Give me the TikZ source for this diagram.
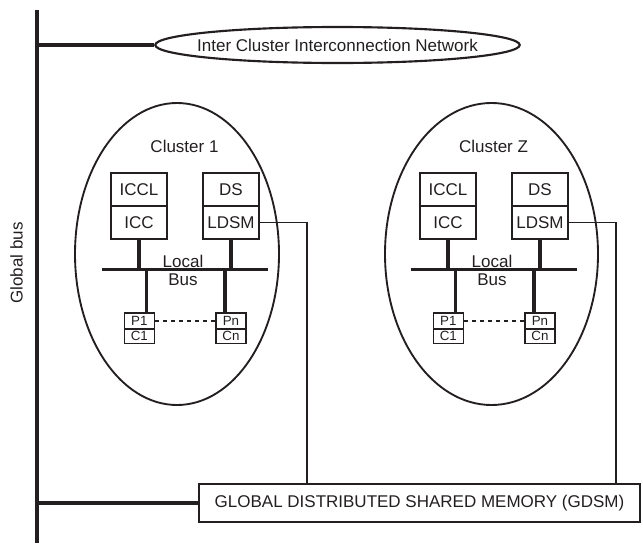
\documentclass[tikz,border=0pt]{standalone}
\usepackage{fontspec}
\setmainfont{Liberation Sans}
\usetikzlibrary{shapes.geometric}
\definecolor{ink}{HTML}{231F20}

\begin{document}
\begin{tikzpicture}[
            x=0.75pt, y=-0.75pt,
            txt/.style={text=ink, inner sep=0pt, font=\fontsize{12.75}{13.5}\selectfont},
            cell/.style={txt, draw=ink, line width=1.6pt, minimum width=42pt,
                    minimum height=24.75pt},
            pcell/.style={txt, draw=ink, line width=1.2pt, minimum width=22.5pt,
                    minimum height=12pt, font=\fontsize{10}{11}\selectfont},
            ccell/.style={pcell, minimum height=10.9pt},
            cluster/.style={draw=ink, ellipse, line width=1.4pt, minimum height=226.5pt, inner sep=0pt},
            bus/.style={draw=ink, line width=2.4pt},
            link/.style={draw=ink, line width=1.2pt}
        ]
        \useasboundingbox (0,0) rectangle (643,543);

        \coordinate (gtop) at (37,10);
        \coordinate (gbot) at (37,543);
        \draw[bus] (gtop) -- (gbot);
        \node[txt, rotate=90] (gbus) at (16.5,263) {Global bus};

        \node[txt, draw=ink, ellipse, line width=1.6pt, minimum height=27pt,
            inner xsep=-8.6pt, inner ysep=0pt] (icin) at (337.5,45) {Inter Cluster Interconnection Network};
        \draw[bus] (gtop |- icin.west) -- (icin.west);

        \node[txt, draw=ink, line width=1.6pt, minimum width=330.75pt, minimum height=28.3pt] (gdsm) at (419.5,502.9) {GLOBAL DISTRIBUTED SHARED MEMORY (GDSM)};
        \draw[bus] (gtop |- gdsm.west) -- (gdsm.west);

        \foreach \id/\lab/\dx/\ex/\ew in {a/1/0/177/153pt, z/Z/309/491.5/159.75pt} {
            \node[cluster, minimum width=\ew] (cl\id) at (\ex,254) {};
            \node[txt] (name\id) at (\dx+184.5,146.7) {Cluster \lab};

            \node[cell] (iccl\id) at (\dx+139,189.5) {ICCL};
            \node[cell] (icc\id) at (\dx+139,222.5) {ICC};
            \node[cell] (ds\id) at (\dx+231,189.5) {DS};
            \node[cell] (ldsm\id) at (\dx+231,222.5) {LDSM};

            \coordinate (busl\id) at (\dx+101.7,269.3);
            \coordinate (busr\id) at (\dx+268.3,269.3);
            \draw[bus] (busl\id) -- (busr\id);
            \node[txt, align=center] (lbus\id) at (\dx+183,270) {Local\\Bus};

            \node[pcell] (p1\id) at (\dx+139.3,320.7) {P1};
            \node[ccell] (c1\id) at (\dx+139.3,336.2) {C1};
            \node[pcell] (pn\id) at (\dx+231,320.7) {Pn};
            \node[ccell] (cn\id) at (\dx+231,336.2) {Cn};

            \draw[bus] (icc\id.south) -- (icc\id.south |- busl\id);
            \draw[bus] (ldsm\id.south) -- (ldsm\id.south |- busl\id);
            \draw[bus] ([xshift=5.2pt]p1\id.north) -- ([xshift=5.2pt]p1\id.north |- busl\id);
            \draw[bus] ([xshift=-4.5pt]pn\id.north) -- ([xshift=-4.5pt]pn\id.north |- busl\id);
            \draw[link, dash pattern=on 3pt off 3pt] (p1\id.east) -- (pn\id.west);

            \coordinate (tap\id) at (\dx+307,222.5);
            \draw[link] (ldsm\id.east) -- (tap\id) -- (tap\id |- gdsm.north);
        }
    \end{tikzpicture}
\end{document}
